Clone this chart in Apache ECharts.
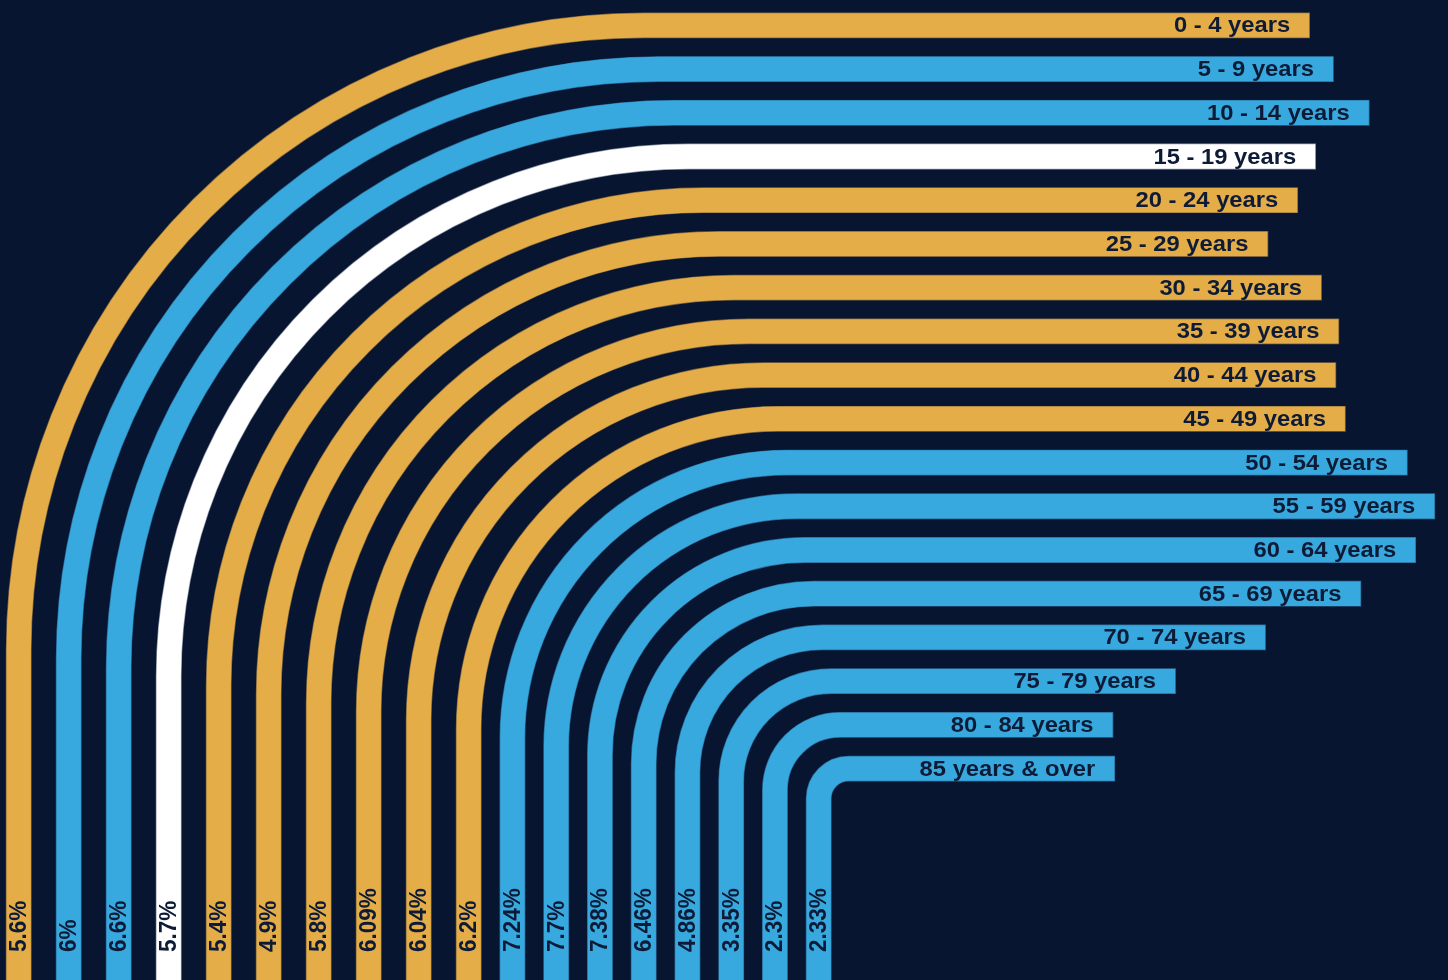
<!DOCTYPE html>
<html>
<head>
<meta charset="utf-8">
<script src="https://cdn.jsdelivr.net/npm/echarts@6/dist/echarts.min.js"></script>
<style>
  html, body { margin: 0; padding: 0; background: #071530; }
  #chart { width: 1448px; height: 980px; }
</style>
</head>
<body>
<div id="chart"></div>
<script>
// ---- data ----
const categories = [
  '0 - 4 years', '5 - 9 years', '10 - 14 years', '15 - 19 years', '20 - 24 years',
  '25 - 29 years', '30 - 34 years', '35 - 39 years', '40 - 44 years', '45 - 49 years',
  '50 - 54 years', '55 - 59 years', '60 - 64 years', '65 - 69 years', '70 - 74 years',
  '75 - 79 years', '80 - 84 years', '85 years & over'
];
const shares = [5.6, 6, 6.6, 5.7, 5.4, 4.9, 5.8, 6.09, 6.04, 6.2, 7.24, 7.7, 7.38, 6.46, 4.86, 3.35, 2.3, 2.33];

// ---- style / layout ----
const BG = '#071530';
const TEXT = '#0d1b36';
const ORANGE = '#e5ad48';
const BLUE = '#38a9df';
const WHITE = '#ffffff';
const EDGE = { [ORANGE]: '#7d6640', [BLUE]: '#2a6b98', [WHITE]: '#8d96a8' };
const bandColors = [ORANGE, BLUE, BLUE, WHITE, ORANGE, ORANGE, ORANGE, ORANGE, ORANGE, ORANGE,
                    BLUE, BLUE, BLUE, BLUE, BLUE, BLUE, BLUE, BLUE];
const BAND_W = 24.4;
const COL_X0 = 18.7, COL_STEP_A = 50, COL_BREAK = 9, COL_STEP_B = 43.75;
const R_MIN = 30, R_STEP = 35;
const ROW_FONT = 'bold 22px "Liberation Sans", Arial, sans-serif';
const PCT_FONT = 'bold 22.5px "Liberation Sans", Arial, sans-serif';
const TEXT_STRETCH = 1.08;

function colX(i) {
  return i <= COL_BREAK ? COL_X0 + i * COL_STEP_A
                        : COL_X0 + COL_BREAK * COL_STEP_A + (i - COL_BREAK) * COL_STEP_B;
}
function radius(i) {
  return R_MIN + (categories.length - 1 - i) * R_STEP;
}
function bandPath(x, bottom, y, R, endX) {
  return 'M' + x + ',' + bottom +
         'L' + x + ',' + (y + R) +
         'A' + R + ',' + R + ',0,0,1,' + (x + R) + ',' + y +
         'L' + endX + ',' + y;
}

const chart = echarts.init(document.getElementById('chart'), null, { renderer: 'canvas' });

chart.setOption({
  backgroundColor: BG,
  animation: false,
  grid: { left: 0, right: 0, top: 3.48, bottom: 189.56 },
  xAxis: { type: 'value', min: -16.37, max: 7.93, show: false },
  yAxis: { type: 'category', data: categories, inverse: true, show: false },
  series: [{
    type: 'custom',
    clip: false,
    data: shares.map((v, i) => [v, i]),
    encode: { x: 0, y: 1 },
    renderItem: function (params, api) {
      const v = api.value(0);
      const i = api.value(1);
      const p = api.coord([v, i]);
      const endX = p[0], y = p[1];
      const H = api.getHeight();
      const x = colX(i);
      const R = radius(i);
      const col = bandColors[i];
      return {
        type: 'group',
        children: [
          {
            type: 'path',
            shape: { pathData: bandPath(x, H + 20, y, R, endX + 0.8) },
            style: { fill: null, stroke: EDGE[col], lineWidth: BAND_W + 1.4, lineCap: 'butt' }
          },
          {
            type: 'path',
            shape: { pathData: bandPath(x, H + 20, y, R, endX) },
            style: { fill: null, stroke: col, lineWidth: BAND_W, lineCap: 'butt' }
          },
          {
            type: 'text',
            x: endX - 19, y: y + 1,
            scaleX: TEXT_STRETCH,
            style: { text: categories[i], fill: TEXT, font: ROW_FONT, align: 'right', verticalAlign: 'middle' }
          },
          {
            type: 'text',
            x: x + 0.5, y: H - 28,
            rotation: Math.PI / 2,
            scaleY: 1.1,
            style: { text: v + '%', fill: TEXT, font: PCT_FONT, align: 'left', verticalAlign: 'middle' }
          }
        ]
      };
    }
  }]
});
</script>
</body>
</html>
